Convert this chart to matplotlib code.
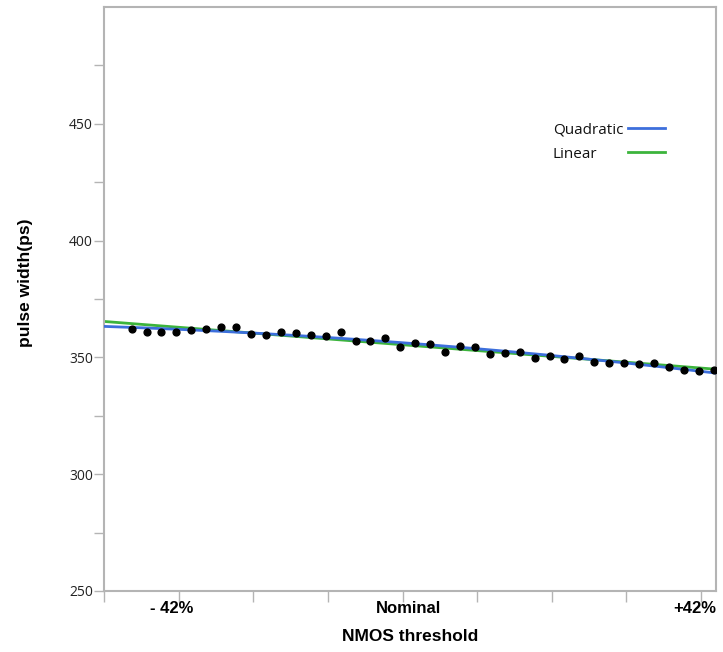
import numpy as np
import matplotlib
matplotlib.use('Agg')
import matplotlib.pyplot as plt
from matplotlib.lines import Line2D

# Measured pulse width (ps) at each NMOS threshold sample
pulse_width = [362.2, 361.0, 361.0, 361.0, 361.6, 362.3, 363.1, 363.1, 360.1, 359.4,
               360.7, 360.3, 359.6, 359.2, 360.7, 357.1, 357.2, 358.3, 354.6, 356.0,
               355.6, 352.4, 355.0, 354.6, 351.5, 351.8, 352.2, 349.6, 350.8, 349.4,
               350.8, 348.0, 347.6, 347.6, 347.1, 347.8, 346.0, 344.6, 344.2, 344.6]
# sample positions along the threshold axis (tick units)
sample_pos = [0.37 + 0.2 * i for i in range(len(pulse_width))]

tick_pos = [0, 1, 2, 3, 4, 5, 6, 7, 8]
tick_labels = ['', '- 42%', '', '', 'Nominal', '', '', '', '+42%']

fit_names = ['Quadratic', 'Linear']

# fitted curves
x = np.array(sample_pos)
y = np.array(pulse_width)
xf = np.linspace(0, 8.2, 200)
lin = np.polyval(np.polyfit(x, y, 1), xf)
quad = np.polyval(np.polyfit(x, y, 2), xf)

blue = '#3d6fdc'
green = '#3cb43c'
grey = '#b4b4b4'

fig = plt.figure(figsize=(7.23, 6.52), dpi=100)
ax = fig.add_axes([104 / 723, 1 - 591 / 652, 612 / 723, 584 / 652])

ax.plot(xf, lin, color=green, lw=2, zorder=2)
ax.plot(xf, quad, color=blue, lw=2, zorder=3)
ax.scatter(x, y, s=24, color='black', zorder=4)

ax.set_xlim(0, 8.2)
ax.set_ylim(250, 500)
ax.set_xticks(tick_pos)
ax.set_xticklabels([])
ax.set_yticks([250, 300, 350, 400, 450])
ax.set_yticks([275, 325, 375, 425, 475], minor=True)
for lab in ax.get_yticklabels():
    lab.set_family('Open Sans')
    lab.set_fontsize(10)
    lab.set_color('#222222')

# x tick labels drawn by hand: the original ones sit a little off their ticks
nudges = {'- 42%': -7, 'Nominal': 6, '+42%': -6}
for pos, txt in zip(tick_pos, tick_labels):
    if not txt:
        continue
    ax.annotate(txt, xy=(pos, 0), xycoords=('data', 'axes fraction'),
                xytext=(nudges[txt] * 0.72, -7.5), textcoords='offset points',
                ha='center', va='top', fontsize=12, fontweight='bold',
                family='Liberation Sans', annotation_clip=False)

ax.tick_params(axis='x', length=8, width=1, color=grey, pad=1)
ax.tick_params(axis='y', which='both', length=7, width=1, color=grey, pad=1)
for s in ax.spines.values():
    s.set_color(grey)
    s.set_linewidth(1.5)

ax.set_xlabel('NMOS threshold', fontsize=12.5, fontweight='bold',
              family='Liberation Sans')
ax.set_ylabel('pulse width(ps)', fontsize=12.5, fontweight='bold',
              family='Liberation Sans')
ax.yaxis.set_label_coords((33 - 104) / 612, (591 - 283) / 584)
ax.xaxis.set_label_coords(0.5, -(629 - 591) / 584)
ax.xaxis.label.set_va('top')

# legend: text on the left, line sample on the right, both left aligned
leg_colors = [blue, green]
for i, (name, c) in enumerate(zip(fit_names, leg_colors)):
    ty = 1 - (130 + 24 * i) / 652
    fig.text(553 / 723, ty, name, family='Open Sans', fontsize=11,
             ha='left', va='center', color='#111111')
    fig.add_artist(Line2D([628 / 723, 665 / 723], [ty + 2 / 652] * 2,
                          color=c, lw=2, transform=fig.transFigure))

fig.savefig('out.png', dpi=100)
